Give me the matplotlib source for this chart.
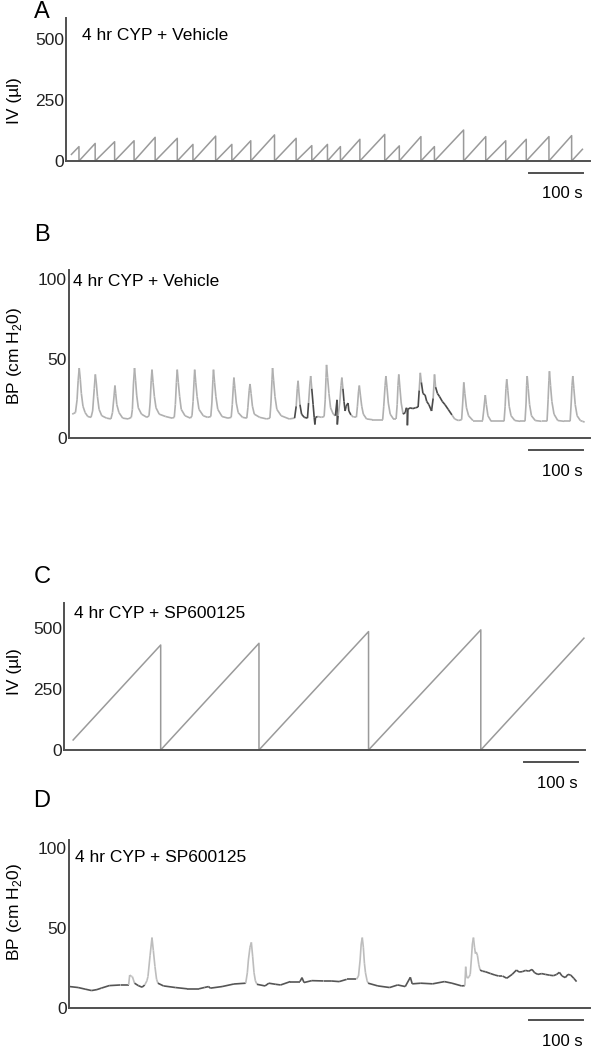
import numpy as np
import matplotlib
matplotlib.use('Agg')
import matplotlib.pyplot as plt
from matplotlib.collections import LineCollection
from matplotlib.transforms import blended_transform_factory, offset_copy

plt.rcParams['font.family'] = ['Liberation Sans', 'DejaVu Sans']
plt.rcParams['mathtext.fontset'] = 'custom'
plt.rcParams['mathtext.rm'] = 'Liberation Sans'

# ---- data (time in s, IV in ul, BP in cm H2O) ----
# A: vehicle, intravesical volume sawtooth
iv_veh_start = (10, 27)
iv_veh_void_t = [24, 54, 90, 126, 165, 206, 235, 277, 307, 342, 386, 426, 455,
                 484, 508, 544, 590, 617, 657, 682, 736, 777, 814, 852, 894, 936]
iv_veh_peak = [59, 72, 79, 83, 97, 93, 68, 102, 68, 83, 107, 93, 63,
               68, 59, 89, 109, 62, 100, 59, 127, 100, 83, 89, 100, 104]
iv_veh_end = (956, 48)

# C: SP600125, intravesical volume sawtooth
iv_sp_start = (17, 41)
iv_sp_void_t = [180, 363, 567, 776]
iv_sp_peak = [430, 437, 485, 492]
iv_sp_end = (968, 458)

# B: vehicle, bladder pressure trace
bp_veh = [
    (6, 15), (9, 15.5), (12, 16), (15, 24), (17, 36), (19, 44), (21, 37), (23, 28), (26, 20), (30, 16), (35, 13.5), (41, 13),
    (44, 17), (47, 31), (49, 40), (51, 34), (53, 26), (56, 18), (61, 14), (70, 12.5), (78, 12),
    (81, 16), (84, 27), (85.5, 33), (87, 28), (89, 21), (93, 16), (100, 12.5), (110, 12), (116, 13),
    (118, 18), (120, 34), (122, 44), (124, 36), (126, 27), (129, 19), (135, 15), (145, 13), (149, 14),
    (151, 22), (153, 36), (154.5, 43), (156.5, 35), (159, 26), (162, 19), (168, 15), (180, 13.5), (192, 12.5), (196, 13),
    (198, 21), (200, 35), (201.5, 43), (203.5, 35), (206, 26), (209, 18), (216, 14), (226, 12.5), (229, 14),
    (231, 23), (233, 37), (234, 43), (236, 35), (238.5, 26), (242, 18), (250, 14), (258, 13), (264, 13.5),
    (266, 22), (268, 37), (269, 43), (271, 35), (273.5, 26), (277, 18), (285, 13.5), (296, 12.5), (302, 13),
    (304, 21), (306, 33), (307, 38), (309, 31), (311.5, 22), (315, 16), (323, 13), (331, 12.5),
    (333, 19), (335.5, 30), (337, 34), (339, 28), (341.5, 20), (345, 15), (355, 13), (368, 12), (374, 12.5),
    (376, 22), (378, 37), (379, 44), (381, 36), (383.5, 26), (387, 18), (395, 14), (410, 12), (420, 12.5),
    (423, 20), (425, 31), (426.5, 36), (428, 29), (430, 21), (433, 15), (438, 13), (444, 12.5),
    (446, 22), (448.5, 34), (450, 39), (452, 31), (454.5, 21), (456.5, 13), (457.8, 8.5), (459, 13), (463, 13.5), (470, 13), (475, 13.5),
    (477, 24), (478.5, 38), (479.5, 46), (481.5, 38), (484, 28), (487, 19), (492, 15), (496, 14),
    (499, 24), (499.5, 8.5), (501, 14), (504, 22), (506.5, 33), (508, 38), (510, 31), (512, 23), (514, 17), (516, 20),
    (519.5, 22), (521, 17), (525, 14.5), (530, 13), (535, 13),
    (537, 20), (539, 29), (540.5, 33), (542.5, 27), (545, 20), (548, 15), (554, 12), (565, 11.5), (575, 11.5), (584, 11.5),
    (586, 20), (588.5, 33), (590, 39), (592, 32), (594.5, 22), (598, 15), (604, 12), (609, 12),
    (611, 21), (612.5, 33), (614, 40), (616, 32), (618.5, 22), (622, 15), (626, 16), (628, 19), (629.8, 18), (630, 8),
    (631, 18), (635, 19), (640, 18.5), (645, 19), (650, 19.5),
    (652, 30), (654, 41), (656, 35), (659, 28), (663, 27), (666, 23), (670, 21), (675, 17), (678, 25), (680.5, 40),
    (682.5, 32), (686, 28), (690, 26), (695, 23), (700, 21), (706, 18), (713, 14.5), (718, 12), (725, 11), (731, 11.5),
    (733, 22), (735, 35), (737, 28), (740, 19), (744, 14), (752, 11), (762, 11), (770, 11),
    (772, 17), (775, 27), (777, 21), (780, 14), (786, 10.5), (800, 10.5), (810, 10.5),
    (812, 20), (813.5, 31), (815, 37), (817, 30), (819.5, 20), (823, 14), (830, 11), (840, 10.5), (849, 10.5),
    (851, 22), (852, 33), (853, 39), (855, 31), (857.5, 21), (861, 14), (868, 11), (880, 10.5), (890, 10.5),
    (892, 24), (893.5, 36), (894.5, 42), (896.5, 33), (899, 23), (903, 15), (910, 11), (922, 10.5), (933, 10.5),
    (935, 22), (936.5, 33), (938, 39), (940, 31), (942.5, 21), (946, 14), (952, 11), (956, 10.5), (960, 10),
]
bp_veh_dark = [(416, 423), (430, 446), (452, 466), (497, 502), (511, 523), (624, 652), (656, 678), (682, 712)]

# D: SP600125, bladder pressure trace
bp_sp = [
    (1, 13.4), (17, 12.8), (30, 11.8), (42, 10.9), (52, 11.5), (60, 12.4), (75, 14), (96, 14.4), (111, 14.4),
    (113, 20.6), (116, 19.8), (118, 19.6), (122, 15.5), (129, 14), (136, 13), (141, 14.4), (145, 17), (147, 19.6),
    (151, 33), (154.5, 44), (157, 36), (160, 26), (163, 18), (165.5, 15.5), (176, 13.8), (198, 12.8), (220, 12),
    (242, 12), (252, 12.8), (260, 13.4), (263, 12.4), (285, 13.4), (307, 15), (329, 15.5),
    (332, 22), (334, 30), (337, 38), (339.5, 41), (342, 32), (344.5, 22), (347, 17), (350, 14.8), (365, 13.8),
    (372, 15.5), (385, 14.8), (394, 14.4), (412, 16.5), (430, 16.5), (433.8, 19), (437.5, 15.9), (452, 17.1),
    (474, 16.9), (488, 16.9), (503, 16.5), (517, 17.9), (535, 17.9),
    (539, 20), (542, 30), (544, 40), (546, 44), (548, 38), (550, 28), (552, 22), (555, 17), (557, 15.5), (575, 13.8),
    (597, 12.8), (612, 14.4), (626, 13.4), (635.5, 19.2), (639, 15.1), (655, 15.5), (677, 15.1), (699, 16.5),
    (713, 15.5), (731, 13.8),
    (737, 14), (738.6, 25.8), (740, 20), (742, 18.6), (745, 19.6), (747, 21), (749, 30), (751, 40), (753, 44),
    (755, 38), (756.7, 34), (758, 35), (760.4, 33), (763, 27), (765.4, 23.7), (770, 23), (775, 22.7), (785, 21.5),
    (793, 20.6), (800, 20), (807, 20), (815, 18.6), (825, 21), (833, 23.7), (838, 22.5), (844, 22.7), (850, 23.5),
    (856, 23), (862, 24.1), (867, 22), (873, 21), (880, 21.5), (887, 21), (895, 20.5), (902, 20.2), (908, 21),
    (913, 22.3), (918, 20), (924, 19), (929, 21), (934, 20.6), (940, 18.5), (945, 16.5),
]
bp_sp_light = [(112, 122), (143, 166), (330, 350), (537, 558), (736, 766)]

W, H = 611, 1049
AXIS = '#505050'
fig = plt.figure(figsize=(W / 100, H / 100), dpi=100)


def make_axes(left, right, top, bottom, ymax, yticks):
    ax = fig.add_axes([left / W, 1 - bottom / H, (right - left) / W, (bottom - top) / H])
    ax.set_xlim(0, 970)
    ax.set_ylim(0, ymax)
    for s in ['top', 'right']:
        ax.spines[s].set_visible(False)
    for s in ['left', 'bottom']:
        ax.spines[s].set_color(AXIS)
        ax.spines[s].set_linewidth(1.4)
    ax.set_xticks([])
    ax.set_yticks(yticks)
    ax.tick_params(axis='y', length=0, pad=1.5, labelsize=12.5, labelcolor='#222222')
    ax.patch.set_alpha(0)
    # 100 s scale bar under the axis
    tr = blended_transform_factory(ax.transData, ax.transAxes)
    ax.plot([857, 957], [0, 0], color=AXIS, lw=1.4, clip_on=False,
            transform=offset_copy(tr, fig=fig, y=-12, units='dots'))
    ax.text(918, 0, '100 s', ha='center', va='center', fontsize=12,
            transform=offset_copy(tr, fig=fig, y=-33, units='dots'))
    return ax


def sawtooth(ax, start, void_t, peaks, end):
    t, v = [start[0]], [start[1]]
    for d, p in zip(void_t, peaks):
        t += [d, d]
        v += [p, 0]
    t.append(end[0])
    v.append(end[1])
    ax.plot(t, v, color='#9a9a9a', lw=1.1, clip_on=False)


def trace(ax, pts, ranges, base_col, alt_col):
    pts = np.array(pts)
    segs = np.stack([pts[:-1], pts[1:]], axis=1)
    mid = (pts[:-1, 0] + pts[1:, 0]) / 2
    alt = np.zeros(len(mid), dtype=bool)
    for a, b in ranges:
        alt |= (mid >= a) & (mid <= b)
    cols = [alt_col if f else base_col for f in alt]
    ax.add_collection(LineCollection(segs, colors=cols, linewidths=1.2))


axA = make_axes(66, 590, 18, 161, 586, [0, 250, 500])
sawtooth(axA, iv_veh_start, iv_veh_void_t, iv_veh_peak, iv_veh_end)

axB = make_axes(69, 590, 270, 438, 105.7, [0, 50, 100])
trace(axB, bp_veh, bp_veh_dark, '#b0b0b0', '#4a4a4a')

axC = make_axes(64, 585, 603, 750, 602, [0, 250, 500])
sawtooth(axC, iv_sp_start, iv_sp_void_t, iv_sp_peak, iv_sp_end)

axD = make_axes(69, 590, 840, 1008, 105, [0, 50, 100])
trace(axD, bp_sp, bp_sp_light, '#555555', '#bdbdbd')

# panel letters, y labels, condition labels
for letter, y in [('A', 12), ('B', 235), ('C', 577), ('D', 801)]:
    fig.text(42 / W, 1 - y / H, letter, ha='center', va='center', fontsize=17)

iv_label = 'IV (\u00b5l)'
bp_label = r'BP (cm H$_\mathregular{2}$0)'
for lab, y in [(iv_label, 101), (bp_label, 356), (iv_label, 672), (bp_label, 912)]:
    fig.text(15 / W, 1 - y / H, lab, ha='center', va='center', rotation=90, fontsize=12.5)

for lab, x, y in [('4 hr CYP + Vehicle', 82, 35), ('4 hr CYP + Vehicle', 73, 281),
                  ('4 hr CYP + SP600125', 74, 613), ('4 hr CYP + SP600125', 75, 857)]:
    fig.text(x / W, 1 - y / H, lab, ha='left', va='center', fontsize=12.5)

fig.savefig('out.png', dpi=100)
